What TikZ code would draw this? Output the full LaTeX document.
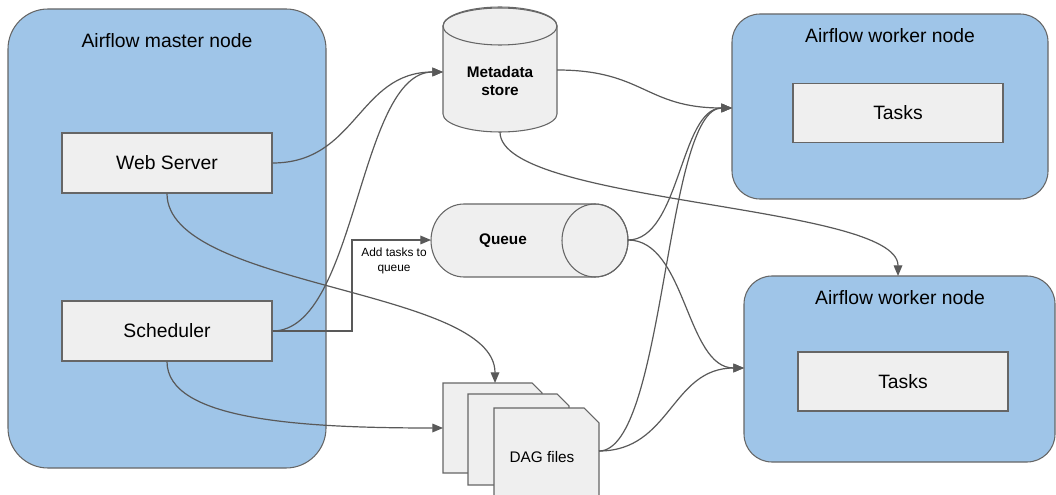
\documentclass[tikz,border=0pt]{standalone}
\usepackage{fontspec}
\setmainfont{Liberation Sans}
\usetikzlibrary{arrows.meta}
\definecolor{nodeblue}{HTML}{9FC5E8}
\definecolor{boxgray}{HTML}{EFEFEF}
\definecolor{linegray}{HTML}{595959}
\definecolor{bordergray}{HTML}{666666}
\tikzset{
  container/.style={draw=bordergray, fill=nodeblue, line width=0.8pt, inner sep=0pt},
  innerbox/.style={draw=bordergray, fill=boxgray, line width=0.8pt, inner sep=0pt, font=\fontsize{14.5}{17}\selectfont},
  titletext/.style={inner sep=0pt, font=\fontsize{14.5}{17}\selectfont},
  shapebody/.style={draw=bordergray, fill=boxgray, line width=0.8pt},
  boldtext/.style={inner sep=0pt, font=\fontsize{11.5}{14}\selectfont\bfseries, align=center},
  plaintext/.style={inner sep=0pt, font=\fontsize{11.5}{14}\selectfont},
  smalltext/.style={inner sep=0pt, font=\fontsize{8.9}{11}\selectfont, align=center},
  conn/.style={draw=linegray, line width=0.9pt, -{Triangle[length=8pt,width=6.5pt]}},
}
\begin{document}
\begin{tikzpicture}[x=0.75pt,y=-0.75pt]
\useasboundingbox (0,0) rectangle (1056,495);
\clip (0,0) rectangle (1056,495);

% containers
\node[container, rounded corners=30pt, minimum width=238.5pt, minimum height=344.25pt] (master) at (167,238.5) {};
\node[titletext] (mastertitle) at (167,41) {Airflow master node};
\node[container, rounded corners=21pt, minimum width=237pt, minimum height=138.75pt] (w1) at (890,106.5) {};
\node[titletext] (w1title) at (890,36) {Airflow worker node};
\node[container, rounded corners=21pt, minimum width=233.25pt, minimum height=139.5pt] (w2) at (899.5,369) {};
\node[titletext] (w2title) at (900,298) {Airflow worker node};

% inner boxes
\node[innerbox, minimum width=157.5pt, minimum height=45pt] (ws) at (167,163) {Web Server};
\node[innerbox, minimum width=157.5pt, minimum height=45pt] (sch) at (167,331) {Scheduler};
\node[innerbox, minimum width=157.5pt, minimum height=44.25pt] (t1) at (898,113) {Tasks};
\node[innerbox, minimum width=157.5pt, minimum height=44.25pt] (t2) at (903,381.5) {Tasks};

% metadata store cylinder
\path[shapebody] (443,26) -- (443,114) arc[start angle=180, end angle=0, x radius=57, y radius=18]
  -- (557,26) arc[start angle=0, end angle=-180, x radius=57, y radius=18] -- cycle;
\draw[draw=bordergray, line width=0.8pt] (500,26) ellipse [x radius=57, y radius=19];
\node[boldtext] (md) at (500,81) {Metadata\\store};
\coordinate (mdL) at (443,72);
\coordinate (mdR) at (557,70);
\coordinate (mdB) at (500,132);

% queue cylinder
\path[shapebody] (595,204) -- (464,204) arc[start angle=270, end angle=90, x radius=33, y radius=36.5]
  -- (595,277) arc[start angle=90, end angle=-90, x radius=33, y radius=36.5] -- cycle;
\draw[draw=bordergray, line width=0.8pt] (595,240.5) ellipse [x radius=33, y radius=36.5];
\node[boldtext] (q) at (503,241) {Queue};
\coordinate (qL) at (431,240);
\coordinate (qR) at (628,240);

% DAG files
\path[shapebody] (443,383) -- (532,383) -- (542,393) -- (542,473) -- (443,473) -- cycle;
\path[shapebody] (468,394) -- (557,394) -- (569,406) -- (569,485) -- (468,485) -- cycle;
\path[shapebody] (494,408) -- (584,408) -- (599,423) -- (599,510) -- (494,510) -- cycle;
\node[plaintext] (dag) at (542,457) {DAG files};
\coordinate (dagT) at (495,383);
\coordinate (dagL) at (443,428);
\coordinate (dagR) at (599,451);

% connector end points at workers
\coordinate (w1L) at (732,108);
\coordinate (w2L) at (744,368);
\coordinate (w2T) at (898,276);
\coordinate (elbow) at (352,240);

% connectors
\draw[conn] (ws.east) .. controls (357,163) and (358,72) .. (mdL);
\draw[conn] (sch.east) .. controls (357,331) and (358,72) .. (mdL);
\draw[conn] (sch.east) -| (elbow) -- (qL);
\node[smalltext] (addlbl) at (394,261) {Add tasks to\\queue};
\draw[conn] (ws.south) .. controls (167,288) and (495,288) .. (dagT);
\draw[conn] (sch.south) .. controls (167,420) and (300,428) .. (dagL);
\draw[conn] (mdR) .. controls (644,70) and (645,108) .. (w1L);
\draw[conn] (mdB) .. controls (500,204) and (898,204) .. (w2T);
\draw[conn] (qR) .. controls (680,240) and (680,108) .. (w1L);
\draw[conn] (qR) .. controls (686,240) and (686,368) .. (w2L);
\draw[conn] (dagR) .. controls (665,451) and (665,108) .. (w1L);
\draw[conn] (dagR) .. controls (671,451) and (671,368) .. (w2L);
\end{tikzpicture}
\end{document}
